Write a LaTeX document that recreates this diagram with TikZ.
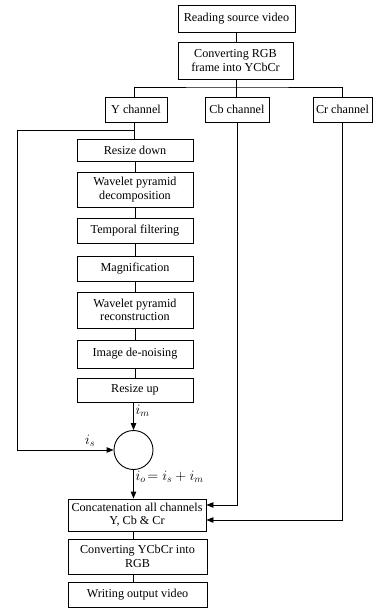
\documentclass[tikz,border=0pt]{standalone}
\usepackage{fontspec}
\setmainfont{Liberation Serif}
\usetikzlibrary{arrows.meta}
\begin{document}
\begin{tikzpicture}[x=1bp,y=-1bp,
  every node/.style={font=\fontsize{12.2}{13.4}\selectfont},
  box/.style={draw,line width=0.9bp,align=center,inner sep=0pt},
  line/.style={line width=0.9bp},
  arr/.style={line width=0.9bp,-{Triangle[length=7bp,width=5.5bp]}},
  lbl/.style={inner sep=0pt,anchor=west,font=\fontsize{14.5}{16}\selectfont}]
\useasboundingbox (0,0) rectangle (373,608);

% input and colour conversion
\node[box,minimum width=117bp,minimum height=27bp] (read) at (236.5,18.5) {Reading source video};
\node[box,minimum width=115bp,minimum height=37bp] (conv) at (235.5,60.5) {Converting RGB\\ frame into YCbCr};

% channel split
\node[box,minimum width=62bp,minimum height=25bp] (ych) at (136,109.5) {Y channel};
\node[box,minimum width=64bp,minimum height=25bp] (cb) at (237,109.5) {Cb channel};
\node[box,minimum width=59bp,minimum height=25bp] (cr) at (342.5,109.5) {Cr channel};

% Y-channel processing chain
\node[box,minimum width=116bp,minimum height=22bp] (rd) at (135,150) {Resize down};
\node[box,minimum width=116bp,minimum height=35bp] (wpd) at (135,189.5) {Wavelet pyramid\\ decomposition};
\node[box,minimum width=116bp,minimum height=25bp] (tf) at (135,230.5) {Temporal filtering};
\node[box,minimum width=116bp,minimum height=25bp] (mag) at (135,268.5) {Magnification};
\node[box,minimum width=116bp,minimum height=36bp] (wpr) at (135,310) {Wavelet pyramid\\ reconstruction};
\node[box,minimum width=116bp,minimum height=28bp] (den) at (135,354) {Image de-noising};
\node[box,minimum width=116bp,minimum height=24bp] (ru) at (135,390) {Resize up};

% summing junction
\node[draw,line width=0.9bp,circle,minimum size=39bp,inner sep=0pt] (sum) at (133.5,450) {};

% recombination and output
\node[box,minimum width=138bp,minimum height=32bp] (cat) at (137,515) {Concatenation all channels\\ Y, Cb \& Cr};
\node[box,minimum width=139bp,minimum height=35bp] (rgb) at (137.5,556.5) {Converting YCbCr into\\ RGB};
\node[box,minimum width=139bp,minimum height=25bp] (out) at (137.5,594.5) {Writing output video};

% connectors at the top
\coordinate (bus) at (236,87);
\coordinate (spine) at (134,130);
\draw[line] (read) -- (read |- conv.north);
\draw[line] (conv.south -| bus) -- (bus);
\draw[line] (ych.north -| spine) |- (bus) -| (cr.north);
\draw[line] (bus) -- (bus |- cb.north);

% Y chain connectors
\coordinate (lft) at (17,130);
\draw[line] (ych.south -| spine) -- (rd.north -| spine);
\draw[line] (rd) -- (wpd);
\draw[line] (wpd) -- (tf);
\draw[line] (tf) -- (mag);
\draw[line] (mag) -- (wpr);
\draw[line] (wpr) -- (den);
\draw[line] (den) -- (ru);
\draw[line] (spine) -- (lft);
\draw[arr] (lft) |- (sum.west);
\draw[arr] (ru.south -| sum) -- (sum.north);
\draw[arr] (sum.south) -- (sum.south |- cat.north);

% chroma channels into the concatenation
\draw[arr] (cb.south) |- ([yshift=10bp]cat.east);
\draw[arr] (cr.south) |- ([yshift=-5bp]cat.east);

% output connectors
\draw[line] (cat.south -| sum) -- (rgb.north -| sum);
\draw[line] (rgb.south -| sum) -- (out.north -| sum);

% signal labels
\node[lbl] (lm) at (135.5,411) {$i_m$};
\node[lbl] (ls) at (85,441) {$i_s$};
\node[lbl] (lo) at (135.5,477) {$i_o\!=i_s+i_m$};
\end{tikzpicture}
\end{document}
